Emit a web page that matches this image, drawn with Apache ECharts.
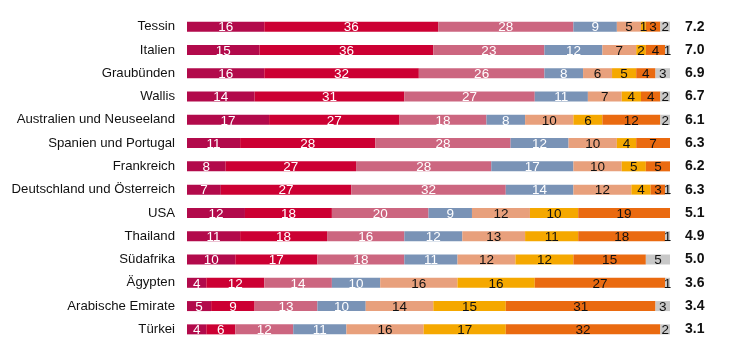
<!DOCTYPE html>
<html><head><meta charset="utf-8">
<script src="https://cdn.jsdelivr.net/npm/echarts@6/dist/echarts.min.js"></script>
<style>html,body{margin:0;padding:0;background:#fff}#c{width:730px;height:358px}</style>
</head><body><div id="c"></div>
<script>
const categories = ["Tessin","Italien","Graubünden","Wallis","Australien und Neuseeland","Spanien und Portugal","Frankreich","Deutschland und Österreich","USA","Thailand","Südafrika","Ägypten","Arabische Emirate","Türkei"];
const averages = ["7.2","7.0","6.9","6.7","6.1","6.3","6.2","6.3","5.1","4.9","5.0","3.6","3.4","3.1"];
const s1 = [16,15,16,14,17,11,8,7,12,11,10,4,5,4];
const s2 = [36,36,32,31,27,28,27,27,18,18,17,12,9,6];
const s3 = [28,23,26,27,18,28,28,32,20,16,18,14,13,12];
const s4 = [9,12,8,11,8,12,17,14,9,12,11,10,10,11];
const s5 = [5,7,6,7,10,10,10,12,12,13,12,16,14,16];
const s6 = [1,2,5,4,6,4,5,4,10,11,12,16,15,17];
const s7 = [3,4,4,4,12,7,5,3,19,18,15,27,31,32];
const s8 = [2,1,3,2,2,0,0,1,0,1,5,1,3,2];
const seriesData = [s1,s2,s3,s4,s5,s6,s7,s8];
const colors = ["#b20a4b","#cc0033","#cc6680","#7a93b6","#e8a07c","#f5a800","#ea6a10","#c8c8c8"];
const labelColors = ["#fff","#fff","#fff","#fff","#111","#111","#111","#111"];

const chart = echarts.init(document.getElementById('c'));
chart.setOption({
  animation: false,
  grid: {left: 187, right: 60, top: 15, bottom: 17},
  xAxis: {type: 'value', min: 0, max: 100, show: false},
  yAxis: [
    {type: 'category', data: categories, inverse: true,
     axisLine: {show: false}, axisTick: {show: false},
     axisLabel: {color: '#111', fontSize: 13.2, fontFamily: 'Liberation Sans, Arial', margin: 12}},
    {type: 'category', data: averages, inverse: true, position: 'right',
     axisLine: {show: false}, axisTick: {show: false},
     axisLabel: {color: '#111', fontSize: 14, fontWeight: 'bold', fontFamily: 'Liberation Sans, Arial', margin: 15, align: 'left'}}
  ],
  series: seriesData.map((d, i) => ({
    type: 'bar', stack: 'all', data: d, barWidth: 10,
    itemStyle: {color: colors[i]},
    label: {show: true, position: 'inside', color: labelColors[i], fontSize: 13.5,
      fontFamily: 'Liberation Sans, Arial', offset: [0, 1],
      formatter: p => p.value === 0 ? '' : String(p.value)}
  }))
});
</script></body></html>
